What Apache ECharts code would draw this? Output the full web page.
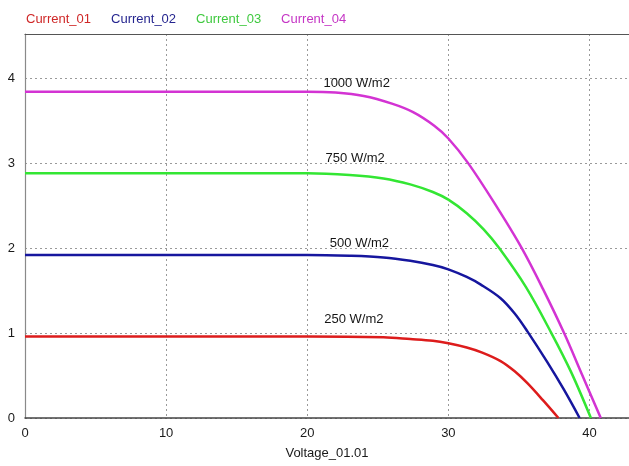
<!DOCTYPE html>
<html>
<head>
<meta charset="utf-8">
<script src="https://cdn.jsdelivr.net/npm/echarts@6/dist/echarts.min.js"></script>
<style>
html,body{margin:0;padding:0;background:#fff;}
#c{width:629px;height:466px;}
</style>
</head>
<body>
<div id="c"></div>
<script>
// Series names and legend
var seriesNames = ['Current_01', 'Current_02', 'Current_03', 'Current_04'];
var irradianceLabels = ['250 W/m2', '500 W/m2', '750 W/m2', '1000 W/m2'];
var xTicks = [0, 10, 20, 30, 40];
var yTicks = [0, 1, 2, 3, 4];

// Current_01 (250 W/m2)
var v1 = [0, 10, 20, 25.4, 27.3, 28.9, 30.0, 31.3, 32.4, 33.7, 34.7, 35.6, 36.7, 37.8];
var i1 = [0.96, 0.96, 0.96, 0.95, 0.93, 0.91, 0.88, 0.83, 0.77, 0.67, 0.55, 0.41, 0.21, 0];
// Current_02 (500 W/m2)
var v2 = [0, 10, 20, 23.0, 25.4, 27.3, 28.9, 30.0, 31.3, 32.3, 33.7, 34.7, 35.6, 37.0, 38.2, 39.3];
var i2 = [1.92, 1.92, 1.92, 1.91, 1.89, 1.85, 1.80, 1.75, 1.66, 1.57, 1.41, 1.23, 1.02, 0.66, 0.33, 0];
// Current_03 (750 W/m2)
var v3 = [0, 10, 20, 23.0, 25.4, 27.3, 28.9, 30.0, 31.3, 32.5, 33.6, 35.5, 37.3, 38.7, 40.1];
var i3 = [2.88, 2.88, 2.88, 2.86, 2.82, 2.75, 2.66, 2.57, 2.41, 2.22, 2.00, 1.54, 1.00, 0.54, 0];
// Current_04 (1000 W/m2)
var v4 = [0, 10, 20, 22, 24, 26, 27.5, 29, 30, 31.4, 33.3, 35.2, 36.7, 38.2, 39.5, 40.8];
var i4 = [3.84, 3.84, 3.84, 3.83, 3.79, 3.70, 3.60, 3.44, 3.29, 3.00, 2.52, 2.00, 1.52, 1.00, 0.50, 0];

// annotation anchor points (data coords)
var labelV = [23.3, 23.7, 23.4, 23.5];
var labelI = [1.16, 2.05, 3.05, 3.94];

var colors = ['#dd1c1c', '#16169e', '#33e633', '#d333d3'];
var legendColors = ['#cf2727', '#25258f', '#3fc93f', '#c535c5'];
var FONT = '"Liberation Sans", Arial, sans-serif';

function pairs(v, i) {
  var out = [];
  for (var k = 0; k < v.length; k++) out.push([v[k], i[k]]);
  return out;
}
var allV = [v1, v2, v3, v4];
var allI = [i1, i2, i3, i4];

var series = [];
for (var s = 0; s < 4; s++) {
  series.push({
    name: seriesNames[s],
    type: 'line',
    data: pairs(allV[s], allI[s]),
    showSymbol: false,
    symbol: 'none',
    smooth: 0.35,
    lineStyle: { color: colors[s], width: 2.5 },
    itemStyle: { color: colors[s] },
    z: 3 + s,
    markPoint: {
      symbol: 'circle',
      symbolSize: 1,
      itemStyle: { color: 'rgba(0,0,0,0)' },
      label: {
        show: true,
        position: 'inside',
        formatter: irradianceLabels[s],
        color: '#151515',
        fontFamily: FONT,
        fontSize: 13
      },
      data: [{ coord: [labelV[s], labelI[s]] }]
    }
  });
}

var chart = echarts.init(document.getElementById('c'), null, { renderer: 'canvas' });
chart.setOption({
  backgroundColor: '#ffffff',
  animation: false,
  legend: {
    data: seriesNames.map(function (n, k) {
      return { name: n, textStyle: { color: legendColors[k] } };
    }),
    left: 16,
    top: 8,
    icon: 'rect',
    itemWidth: 0,
    itemHeight: 0,
    itemGap: 15,
    selectedMode: false,
    textStyle: { fontFamily: FONT, fontSize: 13 }
  },
  grid: { left: 25, right: 0, top: 34, bottom: 48, containLabel: false },
  xAxis: [{
    type: 'value',
    min: 0,
    max: 42.8,
    interval: 10,
    name: 'Voltage_01.01',
    nameLocation: 'middle',
    nameGap: 29,
    nameTextStyle: { color: '#1a1a1a', fontFamily: FONT, fontSize: 13 },
    axisLine: { show: true, lineStyle: { color: '#444', width: 1.5 } },
    axisTick: { show: false },
    axisLabel: {
      color: '#1a1a1a', fontFamily: FONT, fontSize: 13, margin: 9,
      showMaxLabel: false,
      formatter: function (v) { return xTicks.indexOf(v) >= 0 ? String(v) : ''; }
    },
    splitLine: { show: true, lineStyle: { color: '#9a9a9a', type: [2, 3], width: 1 } }
  }, {
    type: 'value',
    position: 'top',
    min: 0,
    max: 42.8,
    interval: 10,
    axisLine: { show: true, lineStyle: { color: '#555', width: 1.2 } },
    axisTick: { show: false },
    axisLabel: { show: false },
    splitLine: { show: false }
  }],
  yAxis: {
    type: 'value',
    min: 0,
    max: 4.52,
    interval: 1,
    axisLine: { show: true, lineStyle: { color: '#8a8a8a', width: 1.2 } },
    axisTick: { show: false },
    axisLabel: {
      color: '#1a1a1a', fontFamily: FONT, fontSize: 13, margin: 10,
      showMaxLabel: false,
      formatter: function (v) { return yTicks.indexOf(v) >= 0 ? String(v) : ''; }
    },
    splitLine: { show: true, lineStyle: { color: '#9a9a9a', type: [2, 3], width: 1 } }
  },
  series: series
});
</script>
</body>
</html>
